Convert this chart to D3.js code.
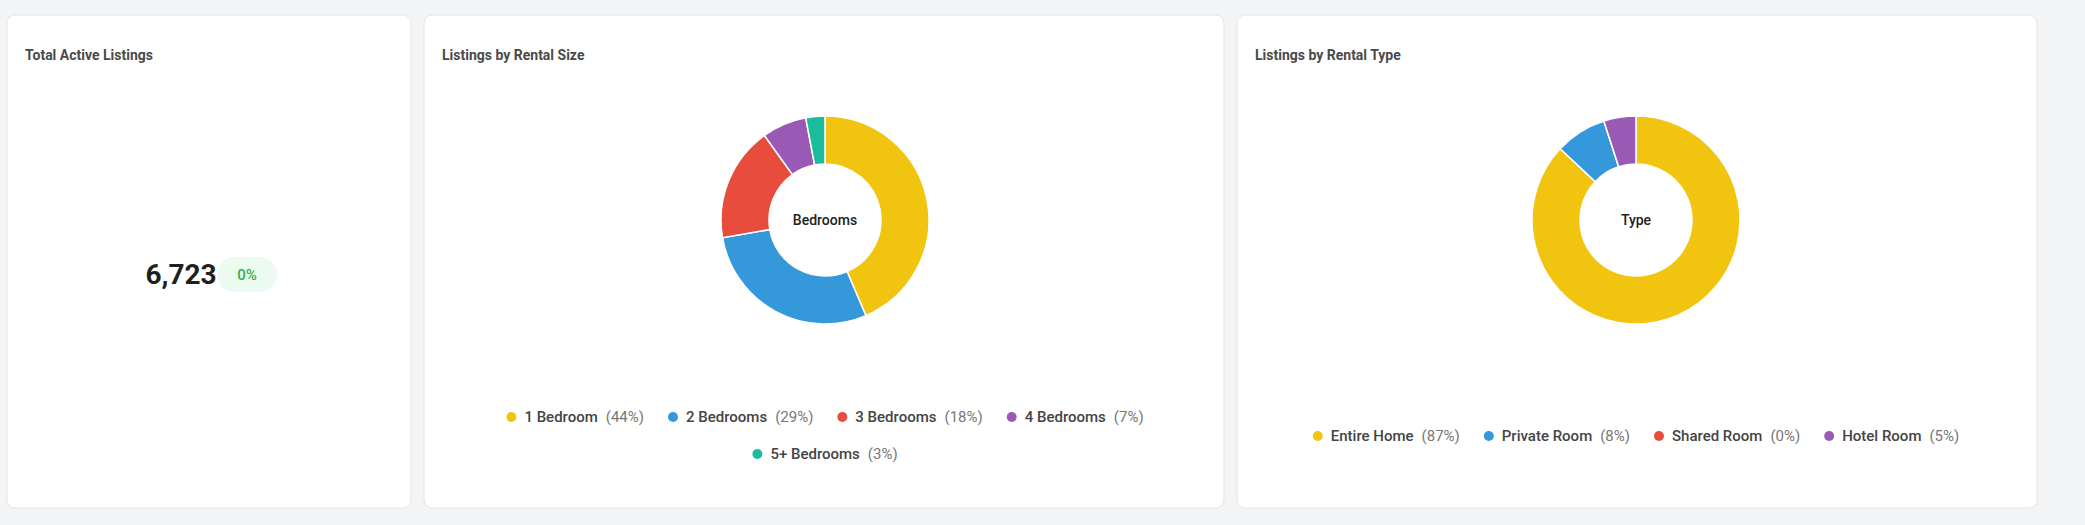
<!DOCTYPE html>
<html>
<head>
<meta charset="utf-8">
<script src="https://cdn.jsdelivr.net/npm/d3@7"></script>
<style>
  body { margin: 0; background: #f3f4f6; font-family: Roboto, sans-serif; }
  svg { display: block; }
</style>
</head>
<body>
<svg id="chart" width="2085" height="525"></svg>
<script>
// data
const totalListings = 6723
const totalChange = '0%'

const sizeLabels = ['1 Bedroom', '2 Bedrooms', '3 Bedrooms', '4 Bedrooms', '5+ Bedrooms']
const sizeValues = [44, 29, 18, 7, 3]

const typeLabels = ['Entire Home', 'Private Room', 'Shared Room', 'Hotel Room']
const typeValues = [87, 8, 0, 5]

const palette = ['#f1c40f', '#3498db', '#e74c3c', '#9b59b6', '#1abc9c']

const svg = d3.select('#chart')

function card(x, w, title) {
  const g = svg.append('g').attr('transform', `translate(${x},15)`)
  g.append('rect').attr('width', w).attr('height', 493).attr('rx', 8)
    .attr('fill', '#fff').attr('stroke', '#e3e5e8')
  g.append('text').attr('x', 18).attr('y', 45).text(title)
    .attr('font-size', 14).attr('font-weight', 700).attr('fill', '#4a4a4a')
  return g
}

// card 1: total
const c1 = card(7, 404, 'Total Active Listings')
c1.append('text').attr('x', 174).attr('y', 269).attr('text-anchor', 'middle')
  .attr('font-size', 28).attr('font-weight', 700).attr('fill', '#1f1f1f')
  .text(d3.format(',')(totalListings))
c1.append('rect').attr('x', 210).attr('y', 242).attr('width', 60).attr('height', 35)
  .attr('rx', 17.5).attr('fill', '#edfaf0')
c1.append('text').attr('x', 240).attr('y', 265).attr('text-anchor', 'middle')
  .attr('font-size', 15).attr('font-weight', 500).attr('fill', '#2fae4e').text(totalChange)

function donut(g, cx, cy, labels, values, centerText, rows, rowY) {
  const pie = d3.pie().sort(null).value(d => d)
  const arc = d3.arc().innerRadius(56).outerRadius(104)
  const dg = g.append('g').attr('transform', `translate(${cx},${cy})`)
  dg.selectAll('path').data(pie(values)).enter().append('path')
    .attr('d', arc).attr('fill', (d, i) => palette[i])
    .attr('stroke', '#fff').attr('stroke-width', 1.5)
  dg.append('text').attr('text-anchor', 'middle').attr('dy', '0.35em')
    .attr('font-size', 14).attr('font-weight', 500).attr('fill', '#222').text(centerText)

  // legend rows, each centered
  rows.forEach((idx, r) => {
    const lg = g.append('g')
    let x = 0
    idx.forEach(i => {
      const item = lg.append('g').attr('transform', `translate(${x},0)`)
      item.append('circle').attr('cx', 5).attr('cy', -5).attr('r', 5).attr('fill', palette[i])
      const t = item.append('text').attr('x', 18).attr('font-size', 15).attr('font-weight', 500)
        .attr('fill', '#444')
      t.append('tspan').text(labels[i])
      t.append('tspan').attr('dx', 8).attr('fill', '#777').attr('font-weight', 400)
        .text(`(${values[i]}%)`)
      x += item.node().getBBox().width + 24
    })
    const w = x - 24
    lg.attr('transform', `translate(${cx - w / 2},${rowY[r]})`)
  })
}

// card 2
const c2 = card(424, 800, 'Listings by Rental Size')
donut(c2, 401, 205, sizeLabels, sizeValues, 'Bedrooms', [[0, 1, 2, 3], [4]], [407, 444])

// card 3
const c3 = card(1237, 800, 'Listings by Rental Type')
donut(c3, 399, 205, typeLabels, typeValues, 'Type', [[0, 1, 2, 3]], [426])
</script>
</body>
</html>
